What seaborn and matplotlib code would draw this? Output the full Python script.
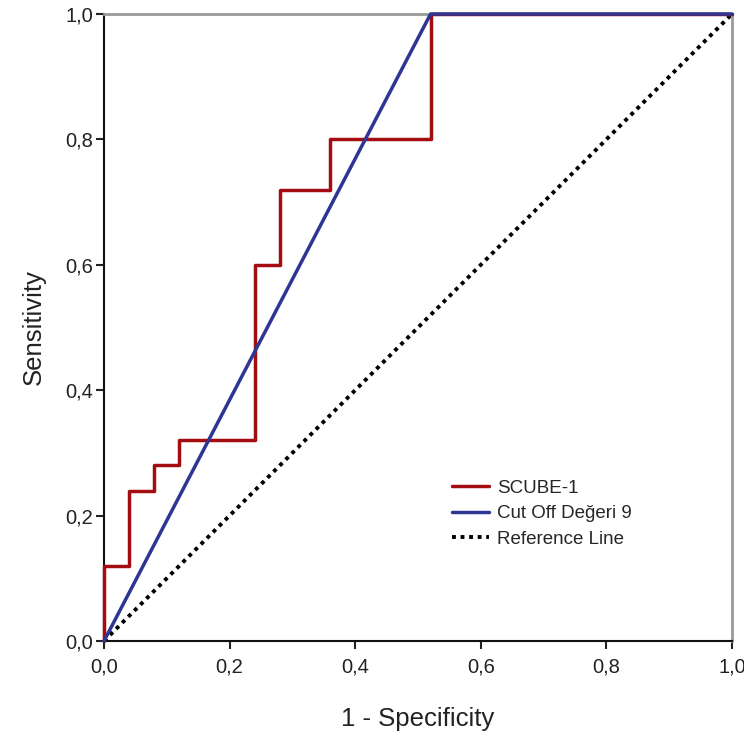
import pandas as pd
import matplotlib.pyplot as plt
import seaborn as sns

# ROC curve data
scube_fpr = [0.0, 0.0, 0.04, 0.04, 0.08, 0.08, 0.12, 0.12, 0.24, 0.24, 0.28, 0.28, 0.36, 0.36, 0.52, 0.52, 1.0]
scube_tpr = [0.0, 0.12, 0.12, 0.24, 0.24, 0.28, 0.28, 0.32, 0.32, 0.60, 0.60, 0.72, 0.72, 0.80, 0.80, 1.0, 1.0]
cutoff_fpr = [0.0, 0.52, 1.0]
cutoff_tpr = [0.0, 1.0, 1.0]
ref_x = [0.0, 1.0]
ticks = [0.0, 0.2, 0.4, 0.6, 0.8, 1.0]
tick_labels = ['0,0', '0,2', '0,4', '0,6', '0,8', '1,0']

df_scube = pd.DataFrame({'fpr': scube_fpr, 'tpr': scube_tpr})
df_cut = pd.DataFrame({'fpr': cutoff_fpr, 'tpr': cutoff_tpr})
df_ref = pd.DataFrame({'fpr': ref_x, 'tpr': ref_x})

sns.set_style("ticks")
plt.rcParams['font.family'] = ['Liberation Sans', 'DejaVu Sans']

fig = plt.figure(figsize=(7.44, 7.40), dpi=100)
ax = fig.add_axes([0.1398, 0.1338, 0.8441, 0.8473])

sns.lineplot(data=df_ref, x='fpr', y='tpr', ax=ax, color='black', lw=2.8,
             linestyle=(0, (1, 1.2)), sort=False, estimator=None, label='Reference Line', zorder=2)
sns.lineplot(data=df_scube, x='fpr', y='tpr', ax=ax, color='#a30d12', lw=2.5,
             sort=False, estimator=None, label='SCUBE-1', zorder=3, clip_on=False)
sns.lineplot(data=df_cut, x='fpr', y='tpr', ax=ax, color='#2e3592', lw=2.5,
             sort=False, estimator=None, label='Cut Off Değeri 9', zorder=4, clip_on=False)

ax.set_xlim(0, 1)
ax.set_ylim(0, 1)
ax.set_xticks(ticks)
ax.set_xticklabels(tick_labels)
ax.set_yticks(ticks)
ax.set_yticklabels(tick_labels)
ax.tick_params(axis='both', labelsize=14.5, length=6, width=1.5, colors='#222222')
ax.tick_params(axis='x', pad=6)
ax.tick_params(axis='y', pad=2)

for side in ['top', 'right']:
    ax.spines[side].set_color('#999999')
    ax.spines[side].set_linewidth(2)
for side in ['left', 'bottom']:
    ax.spines[side].set_color('#111111')
    ax.spines[side].set_linewidth(1.5)

ax.set_xlabel('1 - Specificity', fontsize=18.5, color='#222222', labelpad=22)
ax.set_ylabel('Sensitivity', fontsize=18.5, color='#222222', labelpad=14)

handles, labels = ax.get_legend_handles_labels()
order = [labels.index(l) for l in ['SCUBE-1', 'Cut Off Değeri 9', 'Reference Line']]
ax.legend([handles[i] for i in order], [labels[i] for i in order],
          loc='upper left', bbox_to_anchor=(0.527, 0.284), frameon=False,
          fontsize=13.5, handlelength=2.0, handletextpad=0.4, labelspacing=0.45)

plt.savefig('out.png', dpi=100)
